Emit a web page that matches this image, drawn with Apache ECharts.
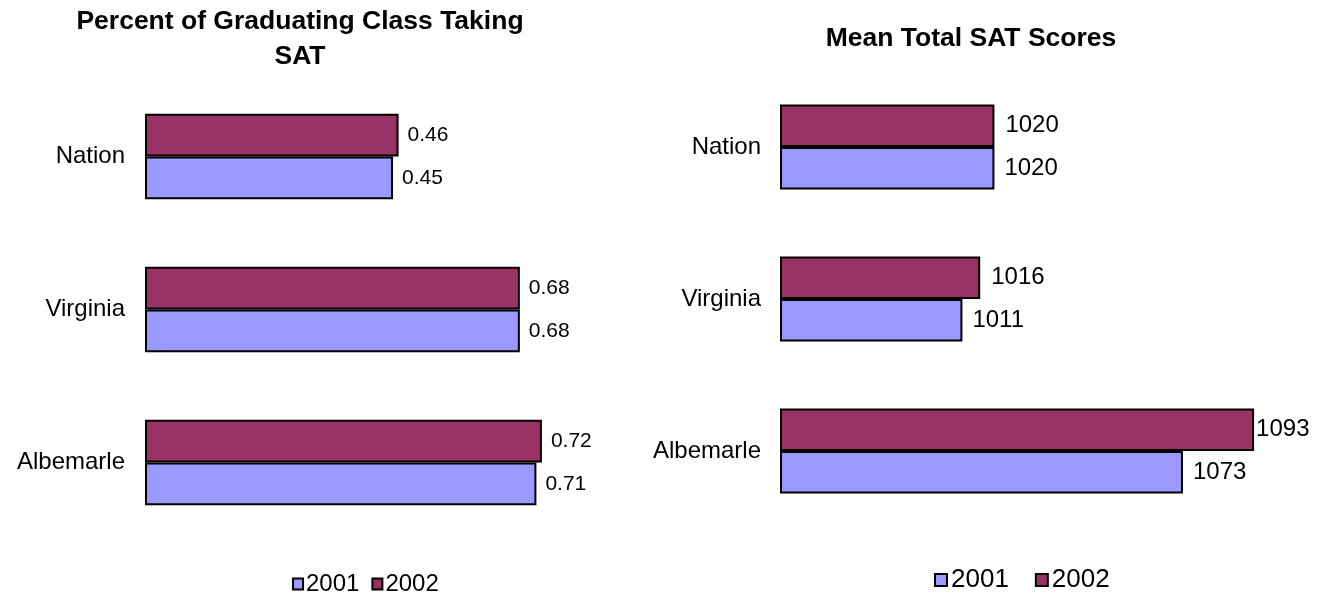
<!DOCTYPE html>
<html>
<head>
<meta charset="utf-8">
<script src="https://cdn.jsdelivr.net/npm/echarts@6/dist/echarts.min.js"></script>
<style>
html,body{margin:0;padding:0;background:#fff;}
#chart{width:1324px;height:597px;}
</style>
</head>
<body>
<div id="chart"></div>
<script>
const categories = ['Nation', 'Virginia', 'Albemarle'];
const seriesNames = ['2001', '2002'];
const pct2001 = [0.45, 0.68, 0.71];
const pct2002 = [0.46, 0.68, 0.72];
const sat2001 = [1020, 1011, 1073];
const sat2002 = [1020, 1016, 1093];
const titleLeft = 'Percent of Graduating Class Taking\nSAT';
const titleRight = 'Mean Total SAT Scores';

const FONT = '"Liberation Sans", Arial, Helvetica, sans-serif';
const C2001 = '#9999FF';
const C2002 = '#993366';

const chart = echarts.init(document.getElementById('chart'), null, {renderer: 'canvas'});

function catAxis(gi, fs) {
  return {
    type: 'category', gridIndex: gi, data: categories, inverse: true,
    axisLine: {show: false}, axisTick: {show: false}, splitLine: {show: false},
    axisLabel: {color: '#000', fontFamily: FONT, fontSize: fs, margin: 20}
  };
}
function valAxis(gi, min, max) {
  return {
    type: 'value', gridIndex: gi, min: min, max: max,
    axisLine: {show: false}, axisTick: {show: false}, splitLine: {show: false},
    axisLabel: {show: false}
  };
}
function barSeries(name, data, color, gi, fs, dist, extraLabel) {
  return {
    name: name, type: 'bar', xAxisIndex: gi, yAxisIndex: gi,
    data: data.map((v, i) => {
      const item = {value: v};
      if (extraLabel && extraLabel[i] !== undefined) item.label = {distance: extraLabel[i]};
      return item;
    }),
    barGap: '0%', barCategoryGap: '44%',
    itemStyle: {color: color, borderColor: '#000', borderWidth: 2},
    label: {show: true, position: 'right', distance: dist, color: '#000', fontFamily: FONT, fontSize: fs},
    animation: false
  };
}

const option = {
  animation: false,
  backgroundColor: '#fff',
  title: [
    {text: titleLeft, left: 300, top: 4, padding: 0, textAlign: 'center',
     textStyle: {fontFamily: FONT, fontWeight: 'bold', fontSize: 26.5, lineHeight: 35, color: '#000'}},
    {text: titleRight, left: 971, top: 21, padding: 0, textAlign: 'center',
     textStyle: {fontFamily: FONT, fontWeight: 'bold', fontSize: 26.5, lineHeight: 35, color: '#000'}}
  ],
  legend: [
    {data: seriesNames, left: 292, top: 572, itemWidth: 10, itemHeight: 11, itemGap: 12, padding: 0,
     icon: 'rect', itemStyle: {borderColor: '#000', borderWidth: 2},
     textStyle: {fontFamily: FONT, fontSize: 24, color: '#000', padding: [0, 0, 0, -2]}, selectedMode: false},
    {data: seriesNames, left: 934, top: 567, itemWidth: 12, itemHeight: 12, itemGap: 26, padding: 0,
     icon: 'rect', itemStyle: {borderColor: '#000', borderWidth: 2},
     textStyle: {fontFamily: FONT, fontSize: 26, color: '#000', padding: [0, 0, 0, -1]}, selectedMode: false}
  ],
  grid: [
    {left: 145, width: 441, top: 80, height: 459, containLabel: false},
    {left: 781, width: 498, top: 71, height: 456, containLabel: false}
  ],
  yAxis: [catAxis(0, 24), catAxis(1, 24)],
  xAxis: [valAxis(0, 0, 0.8), valAxis(1, 960, 1100)],
  series: [
    barSeries(seriesNames[1], pct2002, C2002, 0, 21, 9),
    barSeries(seriesNames[0], pct2001, C2001, 0, 21, 9),
    barSeries(seriesNames[1], sat2002, C2002, 1, 24, 11, [undefined, undefined, 2]),
    barSeries(seriesNames[0], sat2001, C2001, 1, 24, 10)
  ]
};
chart.setOption(option);
</script>
</body>
</html>
